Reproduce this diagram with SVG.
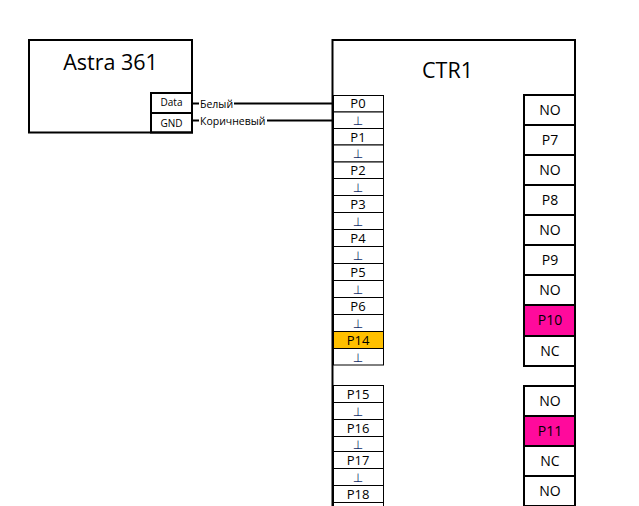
<svg xmlns="http://www.w3.org/2000/svg" width="639" height="506" viewBox="0 0 639 506">
<style>
text{font-family:"Open Sans","Noto Sans","Liberation Sans",sans-serif;text-anchor:middle;fill:#000}
.big{font-size:21.500px}
.s{font-size:10px}
.l{font-size:13px}
.r{font-size:14px}
.w{font-size:10.500px;text-anchor:start}
.box{fill:none;stroke:#000;stroke-width:2}
.lp{fill:#fff;stroke:#000;stroke-width:1}
.rp{fill:#fff;stroke:#000;stroke-width:2}
.g{font-family:"DejaVu Sans",sans-serif;fill:#0f2a66;font-size:12px}
.w2{fill:none;stroke:#000;stroke-width:2}
</style>
<rect width="639" height="506" fill="#fff"/>
<g id="astra">
<rect class="box" x="29" y="40" width="163" height="92.500"/>
<text class="big" x="110.500" y="69.500">Astra 361</text>
<g id="astra-data"><rect class="box" x="151" y="93" width="41" height="20"/><text class="s" x="171.500" y="106">Data</text></g>
<g id="astra-gnd"><rect class="box" x="151" y="113" width="41" height="19.500"/><text class="s" x="171.500" y="127">GND</text></g>
</g>
<g id="connectors">
<path class="w2" d="M192 103.500H199M234 103.500H333"/>
<path class="w2" d="M192 120.500H199M267 120.500H333"/>
<text class="w" x="200" y="107.500">Белый</text>
<text class="w" x="200" y="124.500">Коричневый</text>
</g>
<g id="ctr1">
<path class="box" d="M332.500 506V40H575V506"/>
<text class="big" x="447.500" y="78">CTR1</text>
</g>
<g id="left-pins">
<g id="P0"><rect class="lp" x="333.500" y="95.500" width="50" height="16.500"/><text class="l" x="358" y="108">P0</text></g>
<g id="G0"><rect class="lp" x="333.500" y="112" width="50" height="16.500"/><text class="g" x="358" y="125">⊥</text></g>
<g id="P1"><rect class="lp" x="333.500" y="128.500" width="50" height="16.500"/><text class="l" x="358" y="141.500">P1</text></g>
<g id="G1"><rect class="lp" x="333.500" y="145" width="50" height="17"/><text class="g" x="358" y="158">⊥</text></g>
<g id="P2"><rect class="lp" x="333.500" y="162" width="50" height="16.500"/><text class="l" x="358" y="175">P2</text></g>
<g id="G2"><rect class="lp" x="333.500" y="178.500" width="50" height="17"/><text class="g" x="358" y="192">⊥</text></g>
<g id="P3"><rect class="lp" x="333.500" y="195.500" width="50" height="17"/><text class="l" x="358" y="209">P3</text></g>
<g id="G3"><rect class="lp" x="333.500" y="212.500" width="50" height="17"/><text class="g" x="358" y="226">⊥</text></g>
<g id="P4"><rect class="lp" x="333.500" y="229.500" width="50" height="17"/><text class="l" x="358" y="243">P4</text></g>
<g id="G4"><rect class="lp" x="333.500" y="246.500" width="50" height="17"/><text class="g" x="358" y="260">⊥</text></g>
<g id="P5"><rect class="lp" x="333.500" y="263.500" width="50" height="17"/><text class="l" x="358" y="277">P5</text></g>
<g id="G5"><rect class="lp" x="333.500" y="280.500" width="50" height="17"/><text class="g" x="358" y="294">⊥</text></g>
<g id="P6"><rect class="lp" x="333.500" y="297.500" width="50" height="17"/><text class="l" x="358" y="311">P6</text></g>
<g id="G6"><rect class="lp" x="333.500" y="314.500" width="50" height="17"/><text class="g" x="358" y="328">⊥</text></g>
<g id="P14"><rect class="lp" x="333.500" y="331.500" width="50" height="17" style="fill:#ffc000"/><text class="l" x="358" y="345">P14</text></g>
<g id="G14"><rect class="lp" x="333.500" y="348.500" width="50" height="16.500"/><text class="g" x="358" y="362">⊥</text></g>
<g id="P15"><rect class="lp" x="333.500" y="385.500" width="50" height="17"/><text class="l" x="358" y="399">P15</text></g>
<g id="G15"><rect class="lp" x="333.500" y="402.500" width="50" height="17"/><text class="g" x="358" y="416">⊥</text></g>
<g id="P16"><rect class="lp" x="333.500" y="419.500" width="50" height="17"/><text class="l" x="358" y="432.500">P16</text></g>
<g id="G16"><rect class="lp" x="333.500" y="436.500" width="50" height="15"/><text class="g" x="358" y="449">⊥</text></g>
<g id="P17"><rect class="lp" x="333.500" y="451.500" width="50" height="17"/><text class="l" x="358" y="465">P17</text></g>
<g id="G17"><rect class="lp" x="333.500" y="468.500" width="50" height="17"/><text class="g" x="358" y="482">⊥</text></g>
<g id="P18"><rect class="lp" x="333.500" y="485.500" width="50" height="17"/><text class="l" x="358" y="499">P18</text></g>
<g id="G18"><rect class="lp" x="333.500" y="502.500" width="50" height="17"/></g>
</g>
<g id="right-pins">
<g id="R1"><rect class="rp" x="524" y="95" width="51" height="30"/><text class="r" x="550" y="115">NO</text></g>
<g id="R2"><rect class="rp" x="524" y="125" width="51" height="30"/><text class="r" x="550" y="145">P7</text></g>
<g id="R3"><rect class="rp" x="524" y="155" width="51" height="30"/><text class="r" x="550" y="175">NO</text></g>
<g id="R4"><rect class="rp" x="524" y="185" width="51" height="30"/><text class="r" x="550" y="205">P8</text></g>
<g id="R5"><rect class="rp" x="524" y="215" width="51" height="30"/><text class="r" x="550" y="235">NO</text></g>
<g id="R6"><rect class="rp" x="524" y="245" width="51" height="30"/><text class="r" x="550" y="265">P9</text></g>
<g id="R7"><rect class="rp" x="524" y="275" width="51" height="30"/><text class="r" x="550" y="295">NO</text></g>
<g id="R8"><rect class="rp" x="524" y="305" width="51" height="31" style="fill:#ff0a9c"/><text class="r" x="550" y="325">P10</text></g>
<g id="R9"><rect class="rp" x="524" y="336" width="51" height="30"/><text class="r" x="550" y="356">NC</text></g>
<g id="R10"><rect class="rp" x="524" y="386" width="51" height="30"/><text class="r" x="550" y="406">NO</text></g>
<g id="R11"><rect class="rp" x="524" y="416" width="51" height="30" style="fill:#ff0a9c"/><text class="r" x="550" y="436">P11</text></g>
<g id="R12"><rect class="rp" x="524" y="446" width="51" height="30"/><text class="r" x="550" y="466">NC</text></g>
<g id="R13"><rect class="rp" x="524" y="476" width="51" height="30"/><text class="r" x="550" y="496">NO</text></g>
</g>
</svg>
